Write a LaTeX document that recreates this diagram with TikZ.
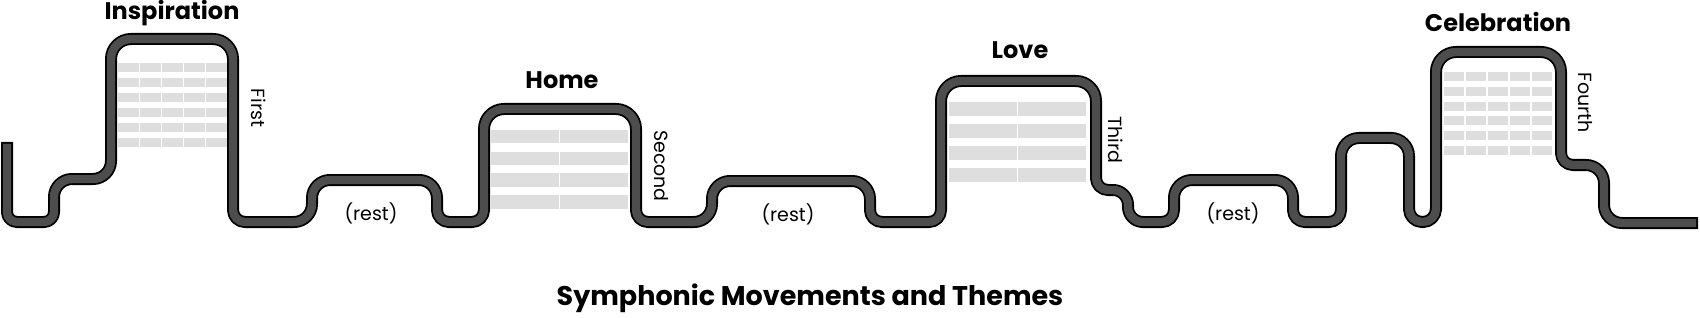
\documentclass[tikz,border=0pt]{standalone}
\usepackage{fontspec}
\setmainfont{Poppins}
\definecolor{wavegray}{HTML}{4D4D4D}
\definecolor{bargray}{HTML}{DEDEDE}
\tikzset{
  waveouter/.style={line width=12pt, draw=black, line cap=butt, line join=round},
  waveinner/.style={line width=8.4pt, draw=wavegray, line cap=butt, line join=round, shorten <=1.8pt, shorten >=1.8pt},
  bar/.style={fill=bargray, draw=none},
  theme/.style={font=\fontsize{24}{28}\selectfont\bfseries, inner sep=0pt},
  part/.style={font=\fontsize{19}{23}\selectfont, rotate=-90, inner sep=0pt},
  restlbl/.style={font=\fontsize{19}{23}\selectfont, inner sep=0pt},
  titlelbl/.style={font=\fontsize{27}{31}\selectfont\bfseries, inner sep=0pt}
}
\newcommand\stripes[7]{%
  \pgfmathsetmacro\cw{#2/#3}%
  \foreach \r in {1,...,#7}{%
    \foreach \c in {1,...,#3}{%
      \fill[bar] ({#1+(\c-1)*\cw+0.6},{#4+(\r-1)*#5}) rectangle ++({\cw-1.2},#6);
    }%
  }%
}
\newcommand\wavepath{%
  (7,142) [rounded corners=10] -- (7,222) -- (54,222) [rounded corners=18] -- (54,179) -- (111,179)
  [rounded corners=20] -- (111,39) -- (233,39) [rounded corners=12] -- (233,222)
  [rounded corners=18] -- (312,222) -- (312,180) -- (437,180) [rounded corners=12] -- (437,222) -- (484,222)
  [rounded corners=20] -- (484,109) -- (636,109) [rounded corners=12] -- (636,222)
  [rounded corners=18] -- (712,222) -- (712,181) -- (870,181) [rounded corners=12] -- (870,222) -- (941,222)
  [rounded corners=20] -- (941,81) -- (1096,81) [rounded corners=12] -- (1096,190)
  [rounded corners=15] -- (1128,190) -- (1128,222) [rounded corners=12] -- (1174,222)
  [rounded corners=18] -- (1174,180) -- (1293,180) [rounded corners=12] -- (1293,222) -- (1341,222)
  [rounded corners=18] -- (1341,138) -- (1409,138) [rounded corners=13] -- (1409,222) -- (1436,222)
  [rounded corners=20] -- (1436,52) -- (1561,52) [rounded corners=12] -- (1561,165)
  [rounded corners=18] -- (1604,165) -- (1604,223) -- (1698,223)%
}
\begin{document}
\begin{tikzpicture}[x=1pt,y=-1pt]
  \useasboundingbox (0,0) rectangle (1700,318);
  \fill[white] (0,0) rectangle (1700,318);
  % stripes inside the movements
  \stripes{117}{111}{5}{63.3}{15}{8.4}{6}
  \stripes{490}{139}{2}{130}{21.7}{13.5}{4}
  \stripes{948}{139}{2}{102}{22}{14}{4}
  \stripes{1443}{110}{5}{72}{14.8}{9}{6}
  % the wave
  \draw[waveouter] \wavepath;
  \draw[waveinner] \wavepath;
  % theme labels
  \node[theme] (insp) at (172,13) {Inspiration};
  \node[theme] (home) at (562,80) {Home};
  \node[theme] (love) at (1020,50) {Love};
  \node[theme] (celeb) at (1498,22) {Celebration};
  % movement labels
  \node[part] (first) at (259,108) {First};
  \node[part] (second) at (661,166) {Second};
  \node[part] (third) at (1116,140) {Third};
  \node[part] (fourth) at (1585,103) {Fourth};
  % rests
  \node[restlbl] (rest1) at (371,213) {(rest)};
  \node[restlbl] (rest2) at (788,214) {(rest)};
  \node[restlbl] (rest3) at (1233,213) {(rest)};
  % title
  \node[titlelbl] (title) at (810,298) {Symphonic Movements and Themes};
\end{tikzpicture}
\end{document}
